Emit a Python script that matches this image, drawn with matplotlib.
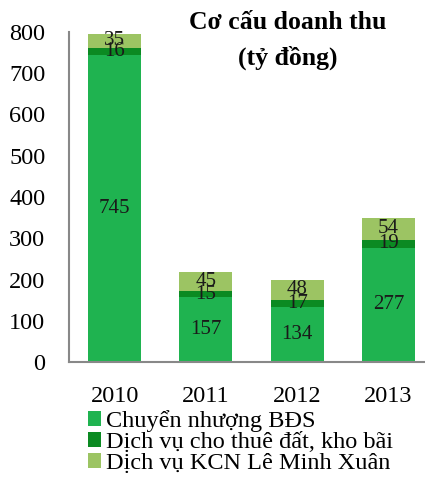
import numpy as np
import matplotlib.pyplot as plt

plt.rcParams['font.family'] = ['Liberation Serif', 'DejaVu Serif']

years = ["2010", "2011", "2012", "2013"]
chuyen_nhuong = [745, 157, 134, 277]
cho_thue = [16, 15, 17, 19]
kcn = [35, 45, 48, 54]
series_names = ["Chuyển nhượng BĐS", "Dịch vụ cho thuê đất, kho bãi", "Dịch vụ KCN Lê Minh Xuân"]
colors = ["#1fb350", "#0b8a22", "#9cc463"]

fig = plt.figure(figsize=(4.25, 4.87), dpi=100)
ax = fig.add_axes([69/425, 1 - 362/487, 1 - 69/425, (362 - 32)/487])

x = np.arange(len(years))
bottom = np.zeros(len(years))
for vals, col, name in zip((chuyen_nhuong, cho_thue, kcn), colors, series_names):
    bars = ax.bar(x, vals, width=0.58, bottom=bottom, color=col, label=name)
    for b, v, b0 in zip(bars, vals, bottom):
        ax.text(b.get_x() + b.get_width() / 2, b0 + v / 2, str(v),
                ha="center", va="center", fontsize=15, color="#1a1a1a")
    bottom += np.array(vals)

ax.set_xlim(-0.5, 3.4)
ax.set_ylim(0, 800)
ax.set_yticks(range(0, 801, 100))
ax.set_xticks(x)
ax.set_xticklabels(years)
ax.tick_params(axis="y", length=0, labelsize=17.5, pad=17)
ax.tick_params(axis="x", length=0, labelsize=17.5, pad=17)
for s in ("top", "right"):
    ax.spines[s].set_visible(False)
for s in ("left", "bottom"):
    ax.spines[s].set_color("#888888")
    ax.spines[s].set_linewidth(1.5)

fig.text(288/425, 1 - 11/487, "Cơ cấu doanh thu\n(tỷ đồng)",
         ha="center", va="top", fontsize=18.5, fontweight="bold", linespacing=1.6)

fig.legend(loc="upper left", bbox_to_anchor=(88/425, 1 - 410/487), frameon=False,
           fontsize=17.5, handlelength=0.55, handleheight=0.55, handletextpad=0.2,
           labelspacing=0.0, borderaxespad=0, borderpad=0)

plt.savefig("out.png", dpi=100)
